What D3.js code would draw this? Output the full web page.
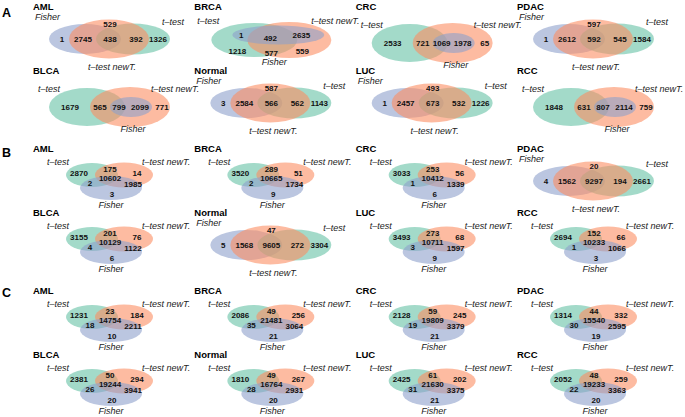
<!DOCTYPE html>
<html><head><meta charset="utf-8">
<script src="https://cdn.jsdelivr.net/npm/d3@7"></script>
<style>body{margin:0;background:#fff}svg{display:block}</style>
</head><body><svg id="c" width="685" height="417"></svg>
<script>
// ---------------- data ----------------
const sections = ["A", "B", "C"];
const cancersTop = ["AML", "BRCA", "CRC", "PDAC"];
const cancersBottom = ["BLCA", "Normal", "LUC", "RCC"];
const setNames = { g: "t\u2013test", o: "t\u2013test newT.", b: "Fisher" };

// layout template of each panel: [section][row][col]
const layoutA = [["T1", "T2", "T3", "T1"], ["T3", "T1", "T1", "T3"]];
const layoutB = [["T4", "T4", "T4", "T1"], ["T4", "T1", "T4", "T4"]];
const layoutC = [["T4", "T4", "T4", "T4"], ["T4", "T4", "T4", "T4"]];

// region counts, order given by the template's region list
const countsA = [
  [[1, 2745, 529, 438, 392, 1326], [1, 492, 2635, 1218, 577, 559], [2533, 721, 1069, 1978, 65], [1, 2612, 597, 592, 545, 1584]],
  [[1679, 565, 799, 2099, 771], [3, 2584, 587, 566, 562, 1143], [1, 2457, 493, 673, 532, 1226], [1848, 631, 807, 2114, 759]]
];
const countsB = [
  [[2870, 175, 14, 2, 10602, 1985, 3], [3520, 289, 51, 2, 10665, 1734, 9], [3033, 253, 56, 1, 10412, 1339, 6], [4, 1562, 20, 9297, 194, 2661]],
  [[3155, 201, 76, 4, 10129, 1122, 6], [5, 1568, 47, 9605, 272, 3304], [3493, 273, 68, 3, 10711, 1597, 9], [2694, 152, 66, 1, 10233, 1066, 3]]
];
const countsC = [
  [[1231, 23, 184, 18, 14754, 2211, 10], [2086, 49, 256, 35, 21481, 3064, 21], [2128, 59, 245, 19, 19809, 3379, 21], [1314, 44, 332, 30, 15540, 2595, 19]],
  [[2381, 50, 294, 26, 19244, 3941, 20], [1810, 49, 267, 28, 16764, 2931, 20], [2425, 61, 202, 31, 21630, 3375, 21], [2052, 48, 259, 22, 19233, 3363, 20]]
];

// ---------------- layout templates (geometry, not data) ----------------
const templates = {
  T1: {
    order: ["b", "g", "o"],
    ell: { b: [52, 33, 36, 15], o: [76, 33, 40, 19.5], g: [100, 33, 37, 15.5] },
    regions: ["b", "bo", "o", "bog", "og", "g"],
    pos: { b: [29, 33], bo: [50, 33], o: [77, 18], bog: [77, 33], og: [103, 33], g: [125, 33] },
    labels: { b: [2, 11, "start"], g: [129, 16, "start"], o: [79, 61, "middle"] }
  },
  T2: {
    order: ["g", "o", "b"],
    ell: { g: [60, 34, 43, 17], o: [95, 34, 42, 18], b: [84, 29, 46, 9.5] },
    regions: ["bg", "bog", "bo", "g", "go", "o"],
    pos: { bg: [47, 29], bog: [76, 32], bo: [107, 29], g: [43, 45], go: [77, 47], o: [108, 45] },
    labels: { g: [3, 15, "start"], o: [117, 15, "start"], b: [80, 56, "middle"] }
  },
  T3: {
    order: ["g", "o", "b"],
    ell: { g: [54, 37, 38, 19], o: [97, 37, 40, 20], b: [98, 37, 21, 10] },
    regions: ["g", "go", "bog", "bo", "o"],
    pos: { g: [37, 37], go: [67, 37], bog: [86, 37], bo: [107, 37], o: [129, 37] },
    labels: { g: [5, 19, "start"], o: [118, 19, "start"], b: [100, 59, "middle"] }
  },
  T4: {
    order: ["g", "o", "b"],
    ell: { g: [59, 27, 26, 12], o: [91, 27, 29, 12.5], b: [78, 40, 31, 12] },
    regions: ["g", "go", "o", "gb", "bog", "ob", "b"],
    pos: { g: [46, 25], go: [77, 21], o: [104, 25], gb: [57, 35], bog: [77, 30], ob: [100, 36], b: [79, 46] },
    labels: { g: [14, 14, "start"], o: [109, 14, "start"], b: [78, 57, "middle"] }
  }
};

const colors = d3.scaleOrdinal().domain(["g", "o", "b"]).range(["#66c2a5", "#fc8d62", "#8da0cb"]);
const xCol = d3.scalePoint().domain([0, 1, 2, 3]).range([33, 517]);
const yRow = d3.scaleOrdinal().domain(d3.range(6)).range([6, 70, 148, 212, 290, 354]);
const yLetter = d3.scaleOrdinal().domain(sections).range([13, 153, 293]);

const FONT = "'Liberation Sans', Arial, Helvetica, sans-serif";
const svg = d3.select("#c").style("font-family", FONT);

const sectionData = [
  { s: "A", layout: layoutA, counts: countsA },
  { s: "B", layout: layoutB, counts: countsB },
  { s: "C", layout: layoutC, counts: countsC }
];

sectionData.forEach((sec, si) => {
  svg.append("text").attr("x", 2).attr("y", yLetter(sec.s))
    .attr("dominant-baseline", "central").attr("font-weight", "bold")
    .attr("font-size", 12.5).text(sec.s);
  [cancersTop, cancersBottom].forEach((names, ri) => {
    names.forEach((name, ci) => {
      const t = templates[sec.layout[ri][ci]];
      const vals = sec.counts[ri][ci];
      const x0 = xCol(ci), y0 = yRow(si * 2 + ri);
      const g = svg.append("g").attr("transform", `translate(${x0},${y0})`);
      g.append("text").attr("x", 0).attr("y", 0).attr("dominant-baseline", "central")
        .attr("font-weight", "bold").attr("font-size", 9.5).text(name);
      g.selectAll("ellipse").data(t.order).join("ellipse")
        .attr("cx", k => t.ell[k][0]).attr("cy", k => t.ell[k][1])
        .attr("rx", k => t.ell[k][2]).attr("ry", k => t.ell[k][3])
        .attr("fill", k => colors(k)).attr("fill-opacity", 0.6);
      g.selectAll("text.n").data(t.regions).join("text").attr("class", "n")
        .attr("x", (k) => t.pos[k][0]).attr("y", k => t.pos[k][1])
        .attr("text-anchor", "middle").attr("dominant-baseline", "central")
        .attr("font-weight", "bold").attr("font-size", 8).attr("fill", "#111")
        .text((k, i) => vals[i]);
      g.selectAll("text.l").data(["g", "o", "b"]).join("text").attr("class", "l")
        .attr("x", k => t.labels[k][0]).attr("y", k => t.labels[k][1])
        .attr("text-anchor", k => t.labels[k][2]).attr("dominant-baseline", "central")
        .attr("font-style", "italic").attr("font-size", 9).attr("fill", "#222")
        .text(k => setNames[k]);
    });
  });
});
</script></body></html>
